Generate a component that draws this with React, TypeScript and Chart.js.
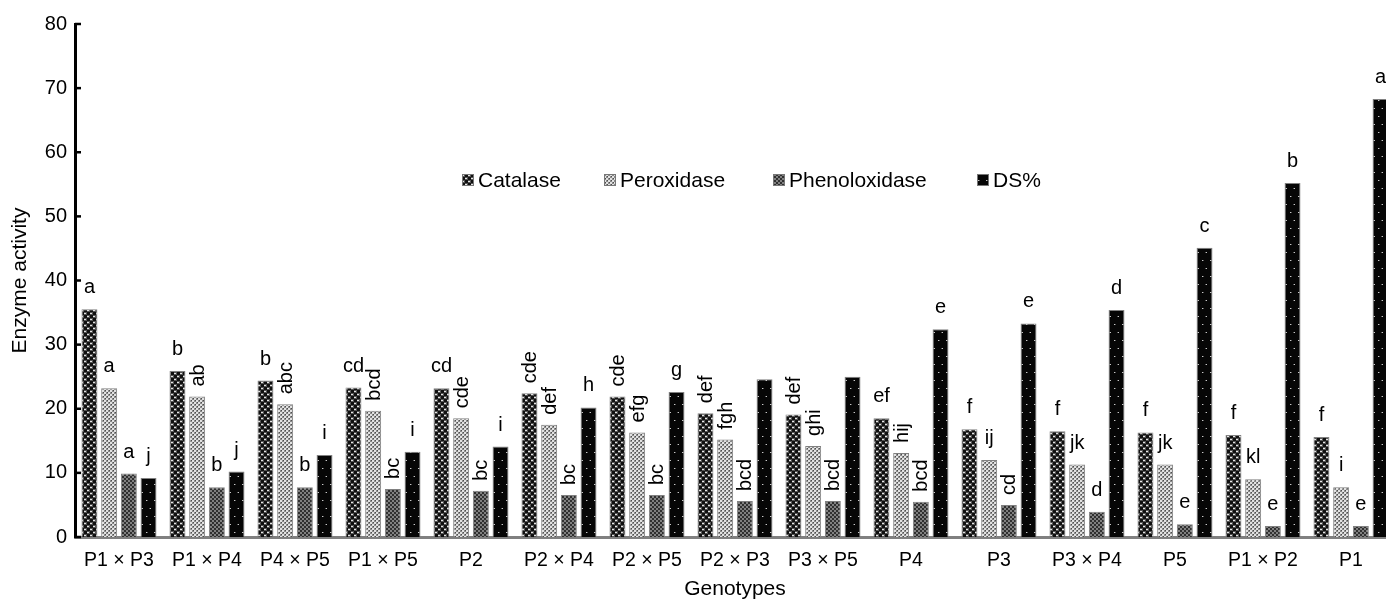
import React, { useEffect, useRef } from 'react';
import { Chart, registerables } from 'chart.js';

Chart.register(...registerables);

const FONT = '"Liberation Sans", Arial, Helvetica, sans-serif';

// ---------- data ----------
const genotypes = ['P1 × P3', 'P1 × P4', 'P4 × P5', 'P1 × P5', 'P2', 'P2 × P4', 'P2 × P5', 'P2 × P3', 'P3 × P5', 'P4', 'P3', 'P3 × P4', 'P5', 'P1 × P2', 'P1'];
const seriesNames = ['Catalase', 'Peroxidase', 'Phenoloxidase', 'DS%'];

const catalase = [35.5, 25.9, 24.4, 23.3, 23.2, 22.4, 21.9, 19.3, 19.1, 18.5, 16.8, 16.5, 16.3, 15.9, 15.6];
const peroxidase = [23.2, 21.9, 20.7, 19.7, 18.5, 17.5, 16.3, 15.2, 14.2, 13.1, 12.0, 11.3, 11.3, 9.0, 7.75];
const phenoloxidase = [9.9, 7.75, 7.75, 7.5, 7.2, 6.55, 6.55, 5.6, 5.6, 5.5, 5.0, 3.95, 2.0, 1.7, 1.7];
const dsPercent = [9.2, 10.2, 12.8, 13.3, 14.1, 20.2, 22.6, 24.6, 25.0, 32.4, 33.3, 35.4, 45.1, 55.2, 68.3];

// significance letters
const catalaseLetters = ['a', 'b', 'b', 'cd', 'cd', 'cde', 'cde', 'def', 'def', 'ef', 'f', 'f', 'f', 'f', 'f'];
const peroxidaseLetters = ['a', 'ab', 'abc', 'bcd', 'cde', 'def', 'efg', 'fgh', 'ghi', 'hij', 'ij', 'jk', 'jk', 'kl', 'i'];
const phenoloxidaseLetters = ['a', 'b', 'b', 'bc', 'bc', 'bc', 'bc', 'bcd', 'bcd', 'bcd', 'cd', 'd', 'e', 'e', 'e'];
const dsLetters = ['j', 'j', 'i', 'i', 'i', 'h', 'g', '', '', 'e', 'e', 'd', 'c', 'b', 'a'];

// whether a letter is written vertically
const catalaseVertical = [false, false, false, false, false, true, true, true, true, false, false, false, false, false, false];
const peroxidaseVertical = [false, true, true, true, true, true, true, true, true, true, false, false, false, false, false];
const phenoloxidaseVertical = [false, false, false, true, true, true, true, true, true, true, true, false, false, false, false];
const dsVertical = [false, false, false, false, false, false, false, false, false, false, false, false, false, false, false];

const yMin = 0;
const yMax = 80;
const yStep = 10;

const letterSets = [catalaseLetters, peroxidaseLetters, phenoloxidaseLetters, dsLetters];
const verticalSets = [catalaseVertical, peroxidaseVertical, phenoloxidaseVertical, dsVertical];

// ---------- patterns ----------
function makePattern(ctx: CanvasRenderingContext2D, kind: number): CanvasPattern | string {
  const c = document.createElement('canvas');
  const p = c.getContext('2d');
  if (!p) return '#333';
  if (kind === 0) {
    c.width = 6; c.height = 6;
    p.fillStyle = '#101010'; p.fillRect(0, 0, 6, 6);
    p.fillStyle = '#555555'; p.fillRect(0, 0, 3, 3); p.fillRect(3, 3, 3, 3);
    p.fillStyle = '#e6e6e6'; p.fillRect(0, 1, 2, 1); p.fillRect(3, 4, 2, 1);
  } else if (kind === 1) {
    c.width = 4; c.height = 4;
    p.fillStyle = '#8a8a8a'; p.fillRect(0, 0, 4, 4);
    p.fillStyle = '#e2e2e2'; p.fillRect(0, 0, 2, 2); p.fillRect(2, 2, 2, 2);
    p.fillStyle = '#4e4e4e'; p.fillRect(3, 0, 1, 1); p.fillRect(1, 2, 1, 1);
  } else if (kind === 2) {
    c.width = 4; c.height = 4;
    p.fillStyle = '#303030'; p.fillRect(0, 0, 4, 4);
    p.fillStyle = '#808080'; p.fillRect(0, 0, 2, 2); p.fillRect(2, 2, 2, 2);
  } else {
    c.width = 8; c.height = 16;
    p.fillStyle = '#060606'; p.fillRect(0, 0, 8, 16);
    p.fillStyle = '#c8c8c8'; p.fillRect(2, 4, 1, 1); p.fillRect(6, 12, 1, 1);
    p.fillStyle = '#555555'; p.fillRect(3, 4, 1, 1); p.fillRect(5, 12, 1, 1);
  }
  return ctx.createPattern(c, 'repeat') || '#333';
}

// ---------- plugins ----------
const yTickMarks = {
  id: 'yTickMarks',
  afterDraw(chart: any) {
    const y = chart.scales.y;
    const ctx = chart.ctx as CanvasRenderingContext2D;
    ctx.save();
    ctx.strokeStyle = '#000';
    ctx.lineWidth = 2.5;
    y.ticks.forEach((t: any) => {
      const py = y.getPixelForValue(t.value);
      ctx.beginPath();
      ctx.moveTo(chart.chartArea.left, py);
      ctx.lineTo(chart.chartArea.left + 6, py);
      ctx.stroke();
    });
    ctx.restore();
  },
};

const barLetters = {
  id: 'barLetters',
  afterDatasetsDraw(chart: any) {
    const ctx = chart.ctx as CanvasRenderingContext2D;
    ctx.save();
    ctx.font = `20px ${FONT}`;
    ctx.fillStyle = '#000';
    chart.data.datasets.forEach((_ds: any, di: number) => {
      const meta = chart.getDatasetMeta(di);
      meta.data.forEach((bar: any, i: number) => {
        const text = letterSets[di][i];
        if (!text) return;
        if (verticalSets[di][i]) {
          ctx.save();
          ctx.translate(bar.x + 1, bar.y - 10);
          ctx.rotate(-Math.PI / 2);
          ctx.textAlign = 'left';
          ctx.textBaseline = 'middle';
          ctx.fillText(text, 0, 0);
          ctx.restore();
        } else {
          ctx.textAlign = 'center';
          ctx.textBaseline = 'alphabetic';
          ctx.fillText(text, bar.x, bar.y - 16);
        }
      });
    });
    ctx.restore();
  },
};

const legendX = [462, 604, 773, 977];
const legendY = 180;

const innerLegend = {
  id: 'innerLegend',
  afterDraw(chart: any) {
    const ctx = chart.ctx as CanvasRenderingContext2D;
    ctx.save();
    ctx.font = `21px ${FONT}`;
    ctx.textAlign = 'left';
    ctx.textBaseline = 'middle';
    chart.data.datasets.forEach((ds: any, di: number) => {
      const x = legendX[di];
      ctx.fillStyle = ds.backgroundColor;
      ctx.fillRect(x, legendY - 6, 12, 12);
      ctx.strokeStyle = '#777';
      ctx.lineWidth = 1;
      ctx.strokeRect(x + 0.5, legendY - 5.5, 11, 11);
      ctx.fillStyle = '#000';
      ctx.fillText(ds.label, x + 16, legendY + 1);
    });
    ctx.restore();
  },
};

export default function App() {
  const ref = useRef<HTMLCanvasElement>(null);

  useEffect(() => {
    const canvas = ref.current;
    if (!canvas) return;
    const ctx = canvas.getContext('2d');
    if (!ctx) return;
    const values = [catalase, peroxidase, phenoloxidase, dsPercent];
    const chart = new Chart(ctx, {
      type: 'bar',
      data: {
        labels: genotypes,
        datasets: values.map((v, i) => ({
          label: seriesNames[i],
          data: v,
          backgroundColor: makePattern(ctx, i) as any,
          borderColor: '#808080',
          borderWidth: 1,
          categoryPercentage: 0.895,
          barPercentage: 0.81,
        })),
      },
      options: {
        responsive: false,
        animation: false,
        devicePixelRatio: 1,
        layout: { padding: { top: 24, right: 5, left: 0, bottom: 0 } },
        plugins: {
          legend: { display: false },
          tooltip: { enabled: false },
        },
        scales: {
          x: {
            grid: { display: false, drawTicks: false },
            border: { display: true, color: '#808080', width: 3 },
            ticks: {
              color: '#000',
              font: { family: FONT, size: 19.5 },
              padding: 12,
              maxRotation: 0,
              minRotation: 0,
              autoSkip: false,
            },
            title: {
              display: true,
              text: 'Genotypes',
              color: '#000',
              font: { family: FONT, size: 21 },
              padding: { top: 0, bottom: 0 },
            },
            afterFit: (s: any) => { s.height = 65; },
          },
          y: {
            min: yMin,
            max: yMax,
            grid: { display: false, drawTicks: false },
            border: { display: true, color: '#000', width: 3 },
            ticks: {
              stepSize: yStep,
              color: '#000',
              font: { family: FONT, size: 20 },
              padding: 8,
            },
            title: {
              display: true,
              text: 'Enzyme activity',
              color: '#000',
              font: { family: FONT, size: 21 },
              padding: { top: 8, bottom: 0 },
            },
            afterFit: (s: any) => { s.width = 75; },
          },
        },
      },
      plugins: [yTickMarks, barLetters, innerLegend],
    });
    return () => chart.destroy();
  }, []);

  return (
    <div style={{ position: 'fixed', left: 0, top: 0, width: 1386, height: 599, overflow: 'hidden', background: '#fff' }}>
      <canvas ref={ref} width={1400} height={602} style={{ display: 'block', width: 1400, height: 602 }} />
    </div>
  );
}
